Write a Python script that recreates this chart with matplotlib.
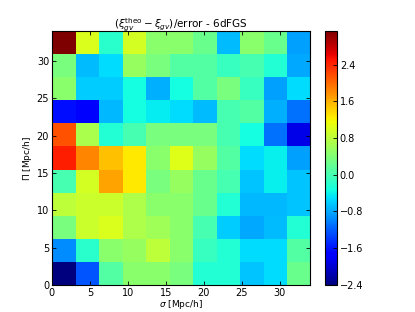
import numpy as np
import matplotlib
matplotlib.use("Agg")
import matplotlib.pyplot as plt

# rows from top (Pi high) to bottom (Pi low), columns sigma low -> high
rows_top_to_bottom = [
    [3.13, 1.00, -0.20, 0.95, 0.45, 0.45, 0.25, -0.68, 0.45, 0.25, -0.85],
    [0.35, -0.68, -0.52, 0.55, 0.35, 0.10, 0.10, -0.10, 0.00, -0.24, -0.80],
    [0.45, -0.60, -0.60, -0.33, -0.76, -0.33, 0.10, 0.35, -0.10, -0.85, -0.52],
    [-1.65, -1.80, -0.72, -0.33, -0.44, -0.52, -0.68, 0.00, 0.10, -0.76, -1.10],
    [2.14, 0.68, -0.24, 0.00, 0.35, 0.35, 0.35, 0.00, -0.33, -1.10, -1.90],
    [2.44, 1.84, 1.50, 1.25, 0.45, 1.03, 0.55, 0.10, -0.52, -0.40, -0.85],
    [0.00, 0.95, 1.68, 1.25, 0.35, 0.55, 0.25, 0.00, -0.65, -0.40, -0.65],
    [0.80, 0.90, 0.90, 0.70, 0.45, 0.45, 0.25, -0.24, -0.72, -0.72, -0.65],
    [0.35, 0.90, 1.00, 0.70, 0.60, 0.45, 0.00, -0.60, -0.80, -0.70, -0.24],
    [-0.96, -0.20, 0.45, 0.55, 0.80, 0.45, -0.10, -0.24, -0.52, -0.52, 0.10],
    [-2.41, -1.25, 0.10, 0.45, 0.45, 0.35, -0.24, -0.24, -0.65, -0.52, 0.25],
]
extent_max = 34.0
cbar_ticks = [-2.4, -1.6, -0.8, 0.0, 0.8, 1.6, 2.4]
x_ticks = [0, 5, 10, 15, 20, 25, 30]
y_ticks = [0, 5, 10, 15, 20, 25, 30]

data = np.array(rows_top_to_bottom[::-1])

fig = plt.figure(figsize=(4.15, 3.12), dpi=100, facecolor="white")
ax = fig.add_axes([0.125, 0.0865, 0.622, 0.814])
im = ax.imshow(data, origin="lower", extent=[0, extent_max, 0, extent_max],
               cmap="jet", interpolation="nearest", aspect="auto")
ax.set_xlim(0, extent_max)
ax.set_ylim(0, extent_max)
ax.set_xticks(x_ticks)
ax.set_yticks(y_ticks)
ax.tick_params(direction="in", top=True, right=True, labelsize=7, length=3, width=0.6, pad=2)
for s in ax.spines.values():
    s.set_linewidth(0.8)
ax.set_xlabel(r"$\sigma$ [Mpc/h]", fontsize=6.5, labelpad=0)
ax.set_ylabel(r"$\Pi$ [Mpc/h]", fontsize=6.5, labelpad=2)
ax.set_title(r"$(\xi_{gv}^{\rm theo}-\xi_{gv})$/error - 6dFGS", fontsize=7.5, pad=2)

cax = fig.add_axes([0.783, 0.0865, 0.029, 0.814])
cb = fig.colorbar(im, cax=cax)
cb.set_ticks(cbar_ticks)
cb.set_ticklabels([("%.1f" % t).replace("-", "\u2212") for t in cbar_ticks])
cax.tick_params(direction="in", labelsize=7, length=3, width=0.6, pad=2)
cb.outline.set_linewidth(0.8)

fig.savefig("out.png", dpi=100, facecolor="white")
